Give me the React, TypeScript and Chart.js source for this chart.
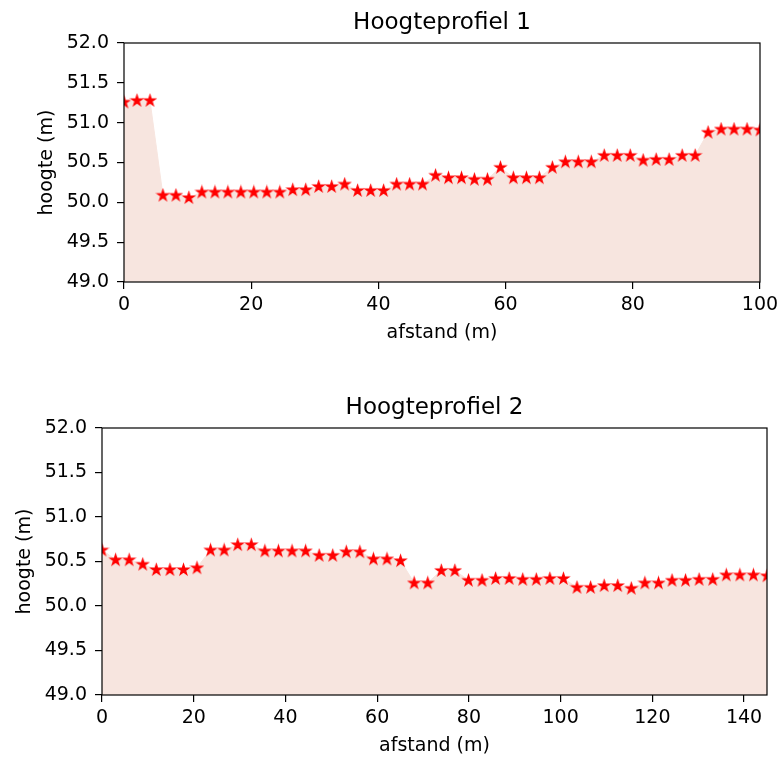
import React, { useEffect, useRef } from "react";
import { Chart, registerables } from "chart.js";

Chart.register(...registerables);

// ---- Data ----
const DIST_1 = [
  0, 2.04, 4.08, 6.12, 8.16, 10.2, 12.24, 14.29, 16.33, 18.37, 20.41, 22.45, 24.49, 26.53, 28.57,
  30.61, 32.65, 34.69, 36.73, 38.78, 40.82, 42.86, 44.9, 46.94, 48.98, 51.02, 53.06, 55.1, 57.14,
  59.18, 61.22, 63.27, 65.31, 67.35, 69.39, 71.43, 73.47, 75.51, 77.55, 79.59, 81.63, 83.67, 85.71,
  87.76, 89.8, 91.84, 93.88, 95.92, 97.96, 100,
];
const HEIGHT_1 = [
  51.26, 51.28, 51.28, 50.09, 50.09, 50.06, 50.13, 50.13, 50.13, 50.13, 50.13, 50.13, 50.13, 50.16,
  50.16, 50.2, 50.2, 50.23, 50.15, 50.15, 50.15, 50.23, 50.23, 50.23, 50.34, 50.31, 50.31, 50.29,
  50.29, 50.44, 50.31, 50.31, 50.31, 50.44, 50.51, 50.51, 50.51, 50.59, 50.59, 50.59, 50.53, 50.54,
  50.54, 50.59, 50.59, 50.88, 50.92, 50.92, 50.92, 50.91,
];
const DIST_2 = [
  0, 2.96, 5.92, 8.88, 11.84, 14.8, 17.76, 20.71, 23.67, 26.63, 29.59, 32.55, 35.51, 38.47, 41.43,
  44.39, 47.35, 50.31, 53.27, 56.22, 59.18, 62.14, 65.1, 68.06, 71.02, 73.98, 76.94, 79.9, 82.86,
  85.82, 88.78, 91.73, 94.69, 97.65, 100.61, 103.57, 106.53, 109.49, 112.45, 115.41, 118.37, 121.33,
  124.29, 127.24, 130.2, 133.16, 136.12, 139.08, 142.04, 145,
];
const HEIGHT_2 = [
  50.63, 50.52, 50.52, 50.47, 50.41, 50.41, 50.41, 50.43, 50.63, 50.63, 50.69, 50.69, 50.62, 50.62,
  50.62, 50.62, 50.57, 50.57, 50.61, 50.61, 50.53, 50.53, 50.51, 50.26, 50.26, 50.4, 50.4, 50.29,
  50.29, 50.31, 50.31, 50.3, 50.3, 50.31, 50.31, 50.21, 50.21, 50.23, 50.23, 50.2, 50.26, 50.26,
  50.29, 50.29, 50.3, 50.3, 50.35, 50.35, 50.35, 50.34,
];
const X_TICKS_1 = [0, 20, 40, 60, 80, 100];
const X_TICKS_2 = [0, 20, 40, 60, 80, 100, 120, 140];
const Y_TICKS = [49.0, 49.5, 50.0, 50.5, 51.0, 51.5, 52.0];
const TITLE_1 = "Hoogteprofiel 1";
const TITLE_2 = "Hoogteprofiel 2";
const X_LABEL = "afstand (m)";
const Y_LABEL = "hoogte (m)";

const FILL = "rgb(247,229,223)";
const FONT_FAMILY = "'DejaVu Sans', sans-serif";
const W = 777;
const H = 379;

function makeStar(): HTMLCanvasElement {
  const c = document.createElement("canvas");
  c.width = 15;
  c.height = 15;
  const ctx = c.getContext("2d")!;
  const cx = 7.5, cy = 7.8, R = 5.5, r = R * 0.382;
  ctx.beginPath();
  for (let i = 0; i < 10; i++) {
    const rad = i % 2 === 0 ? R : r;
    const a = -Math.PI / 2 + (i * Math.PI) / 5;
    const px = cx + rad * Math.cos(a);
    const py = cy + rad * Math.sin(a);
    if (i === 0) ctx.moveTo(px, py);
    else ctx.lineTo(px, py);
  }
  ctx.closePath();
  ctx.fillStyle = "#ff0000";
  ctx.fill();
  ctx.strokeStyle = "#ff0000";
  ctx.lineWidth = 1.3;
  ctx.lineJoin = "miter";
  ctx.stroke();
  return c;
}

type Box = { left: number; top: number; right: number; bottom: number; ylabelX: number };

function Profile(props: {
  dist: number[];
  heights: number[];
  xTicks: number[];
  xMax: number;
  title: string;
  box: Box;
}) {
  const ref = useRef<HTMLCanvasElement>(null);
  useEffect(() => {
    const { dist, heights, xTicks, xMax, title, box } = props;
    const star = makeStar();
    const tickFont = { family: FONT_FAMILY, size: 19 };
    const gridCfg = {
      drawOnChartArea: false,
      drawTicks: true,
      tickLength: 7,
      color: "#000",
      lineWidth: 1.2,
    };
    const chart = new Chart(ref.current as HTMLCanvasElement, {
      type: "line",
      data: {
        datasets: [
          {
            data: dist.map((d, i) => ({ x: d, y: heights[i] })),
            fill: "start",
            backgroundColor: FILL,
            borderColor: FILL,
            borderWidth: 1,
            tension: 0,
            pointStyle: star as any,
            pointRadius: 6,
            pointHoverRadius: 6,
          },
        ],
      },
      options: {
        responsive: false,
        animation: false,
        events: [],
        layout: { padding: { left: 0, top: box.top, right: W - box.right, bottom: 0 } },
        plugins: {
          legend: { display: false },
          tooltip: { enabled: false },
          title: { display: false },
        },
        scales: {
          x: {
            type: "linear",
            min: 0,
            max: xMax,
            afterFit: (s: any) => {
              s.height = H - box.bottom;
              s.paddingLeft = 0;
              s.paddingRight = 0;
              s.paddingTop = 0;
              s.paddingBottom = 0;
            },
            afterBuildTicks: (s: any) => {
              s.ticks = xTicks.map((v) => ({ value: v }));
            },
            grid: gridCfg,
            border: { display: false },
            ticks: {
              font: tickFont,
              color: "#000",
              padding: 5,
              maxRotation: 0,
              autoSkip: false,
              callback: (v: any) => String(v),
            },
          },
          y: {
            type: "linear",
            min: 49,
            max: 52,
            afterFit: (s: any) => {
              s.width = box.left;
              s.paddingLeft = 0;
              s.paddingRight = 0;
              s.paddingTop = 0;
              s.paddingBottom = 0;
            },
            afterBuildTicks: (s: any) => {
              s.ticks = Y_TICKS.map((v) => ({ value: v }));
            },
            grid: gridCfg,
            border: { display: false },
            ticks: {
              font: tickFont,
              color: "#000",
              padding: 8,
              autoSkip: false,
              callback: (v: any) => Number(v).toFixed(1),
            },
          },
        },
      } as any,
      plugins: [
        {
          id: "frameAndText",
          afterDraw(c: any) {
            const ctx = c.ctx as CanvasRenderingContext2D;
            const a = c.chartArea;
            ctx.save();
            ctx.strokeStyle = "#000";
            ctx.lineWidth = 1.2;
            ctx.strokeRect(a.left, a.top, a.right - a.left, a.bottom - a.top);
            ctx.fillStyle = "#000";
            ctx.textAlign = "center";
            ctx.textBaseline = "alphabetic";
            const cx = (a.left + a.right) / 2;
            ctx.font = `23px ${FONT_FAMILY}`;
            ctx.fillText(title, cx, a.top - 14);
            ctx.font = `19px ${FONT_FAMILY}`;
            ctx.fillText(X_LABEL, cx, a.bottom + 56);
            ctx.translate(box.ylabelX, (a.top + a.bottom) / 2);
            ctx.rotate(-Math.PI / 2);
            ctx.fillText(Y_LABEL, 0, 0);
            ctx.restore();
          },
        },
      ],
    });
    return () => chart.destroy();
  }, []);
  return <canvas ref={ref} width={W} height={H} style={{ display: "block", width: W, height: H }} />;
}

export default function App() {
  return (
    <div
      style={{
        position: "absolute",
        left: 0,
        top: 0,
        width: 777,
        height: 758,
        background: "#fff",
      }}
    >
      <Profile
        dist={DIST_1}
        heights={HEIGHT_1}
        xTicks={X_TICKS_1}
        xMax={100}
        title={TITLE_1}
        box={{ left: 124, top: 43, right: 760, bottom: 282, ylabelX: 52 }}
      />
      <Profile
        dist={DIST_2}
        heights={HEIGHT_2}
        xTicks={X_TICKS_2}
        xMax={145}
        title={TITLE_2}
        box={{ left: 102, top: 49, right: 767, bottom: 316, ylabelX: 30 }}
      />
    </div>
  );
}
